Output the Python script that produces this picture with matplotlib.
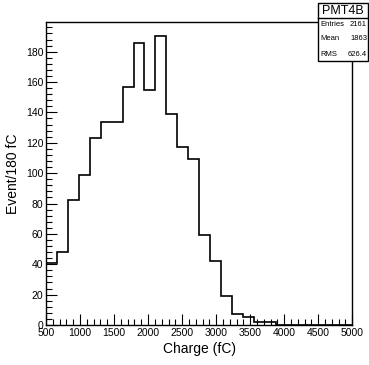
import numpy as np
import matplotlib
matplotlib.use("Agg")
import matplotlib.pyplot as plt
from matplotlib.ticker import MultipleLocator
from matplotlib.patches import Rectangle

plt.rcParams['font.family'] = ['Liberation Sans', 'DejaVu Sans']

# histogram: 28 bins between 500 and 5000 fC
x_min = 500
x_max = 5000
n_bins = 28
counts = [41, 48, 82, 99, 123, 134, 134, 157, 186, 155, 190, 139, 117, 109,
          59, 42, 19, 7, 5, 2, 2, 0, 0, 0, 0, 0, 0, 0]
edges = np.linspace(x_min, x_max, n_bins + 1)

hist_name = "PMT4B"
stat_names = ["Entries", "Mean", "RMS"]
stat_values = ["2161", "1863", "626.4"]

fig = plt.figure(figsize=(3.69, 3.65), dpi=100)
ax = fig.add_axes([0.1247, 0.1096, 0.83, 0.830])

ax.stairs(counts, edges, color="black", linewidth=1.2)
ax.set_xlim(x_min, x_max)
ax.set_ylim(0, 199.5)

ax.xaxis.set_major_locator(MultipleLocator(500))
ax.xaxis.set_minor_locator(MultipleLocator(100))
ax.yaxis.set_major_locator(MultipleLocator(20))
ax.yaxis.set_minor_locator(MultipleLocator(4))
ax.tick_params(which="both", direction="in", top=False, right=False,
               width=0.8, labelsize=7.5, pad=2)
ax.tick_params(which="major", length=8)
ax.tick_params(which="minor", length=4)
for s in ax.spines.values():
    s.set_linewidth(1.0)

ax.set_xlabel("Charge (fC)", fontsize=10, labelpad=3)
ax.set_ylabel("Event/180 fC", fontsize=10, labelpad=4)

# stats box in the top right corner, like ROOT
bx0, by0, bw, bh = 318 / 369, 1 - 61 / 365, 50 / 369, 58 / 365
fig.patches.append(Rectangle((bx0, by0), bw, bh, transform=fig.transFigure,
                             facecolor="white", edgecolor="black",
                             linewidth=1.0, zorder=10))
sep_y = 1 - 18 / 365
fig.add_artist(plt.Line2D([bx0, bx0 + bw], [sep_y, sep_y],
                          transform=fig.transFigure, color="black",
                          linewidth=1.0, zorder=11))
fig.text(bx0 + bw / 2, (sep_y + by0 + bh) / 2, hist_name, ha="center",
         va="center", fontsize=9, zorder=12)
rows_y = [25, 39, 54]
for name, val, ry in zip(stat_names, stat_values, rows_y):
    fig.text(bx0 + 2 / 369, 1 - ry / 365, name, ha="left", va="center",
             fontsize=5.5, zorder=12)
    fig.text(bx0 + bw - 1 / 369, 1 - ry / 365, val, ha="right", va="center",
             fontsize=5.5, zorder=12)

fig.savefig("out.png", dpi=100)
